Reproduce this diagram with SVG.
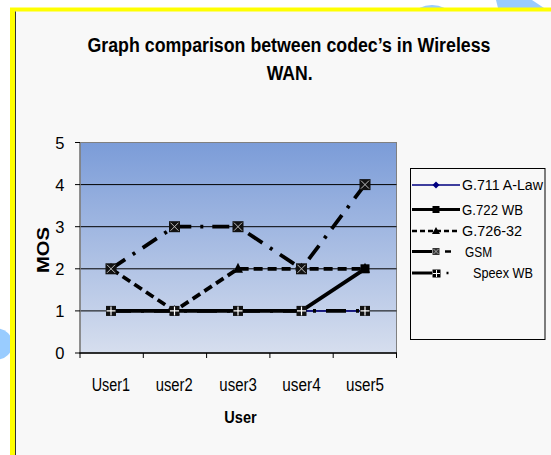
<svg xmlns="http://www.w3.org/2000/svg" width="551" height="455" viewBox="0 0 551 455">
  <defs>
    <linearGradient id="plotGrad" x1="0" y1="0" x2="0" y2="1">
      <stop offset="0" stop-color="#7b9cd8"/>
      <stop offset="1" stop-color="#d6deee"/>
    </linearGradient>
    <g id="mkGsm">
      <rect x="-5.5" y="-5.5" width="11" height="11" fill="#111"/>
      <path d="M-4,-4 L4,4 M4,-4 L-4,4" stroke="#bbb" stroke-width="1"/>
    </g>
    <g id="mkSpeex">
      <rect x="-5" y="-5" width="10" height="10" fill="#111"/>
      <path d="M0,-4.5 V4.5 M-4.5,0 H4.5" stroke="#fff" stroke-width="1.2"/>
    </g>
    <polygon id="mkTri" points="0,-6 5,4 -5,4" fill="#000"/>
    <rect id="mkSq" x="-4.5" y="-4.5" width="9" height="9" fill="#000"/>
    <polygon id="mkDia" points="0,-4.5 4.5,0 0,4.5 -4.5,0" fill="#000080"/>
  </defs>
  <style>
    text { font-family: "Liberation Sans", Arial, sans-serif; fill: #000; }
    .title { font-size: 20px; font-weight: bold; }
    .tick { font-size: 16.5px; }
    .cat { font-size: 17.5px; }
    .axt { font-size: 17px; font-weight: bold; }
    .leg { font-size: 14px; }
    .grid { stroke: #000; stroke-width: 1; }
    .s711 { fill: none; stroke: #000080; stroke-width: 1.5; }
    .s722 { fill: none; stroke: #000; stroke-width: 3.8; }
    .s726 { fill: none; stroke: #000; stroke-width: 3.8; stroke-dasharray: 9 5; }
    .sgsm { fill: none; stroke: #000; stroke-width: 3.8; stroke-dasharray: 17 9 3 9; }
    .sspx { fill: none; stroke: #000; stroke-width: 3.8; stroke-dasharray: 20 10 3 10; }
  </style>

  <!-- outside background -->
  <rect x="0" y="0" width="551" height="455" fill="#ffffff"/>
  <ellipse cx="432" cy="14" rx="17" ry="9" fill="#99ccff"/>
  <polygon points="496,0 532,0 544,8 498,8" fill="#99ccff"/>
  <circle cx="-3" cy="344" r="15.5" fill="#99ccff"/>

  <!-- chart frame -->
  <rect x="10" y="7.5" width="541" height="447.5" fill="#ffff00"/>
  <rect x="15" y="11.5" width="536" height="443.5" fill="#f8f8f8"/>
  <line x1="15.5" y1="11.5" x2="15.5" y2="455" stroke="#333" stroke-width="1"/>

  <!-- title -->
  <g id="title">
    <text class="title" x="87.5" y="51.5" textLength="403" lengthAdjust="spacingAndGlyphs">Graph comparison between codec’s in Wireless</text>
    <text class="title" x="266.7" y="80" textLength="46" lengthAdjust="spacingAndGlyphs">WAN.</text>
  </g>

  <!-- plot area -->
  <g id="plot">
    <rect x="80" y="142.5" width="316.5" height="210.5" fill="url(#plotGrad)" stroke="#808080" stroke-width="1"/>
    <line class="grid" x1="80" y1="184.6" x2="396.5" y2="184.6"/>
    <line class="grid" x1="80" y1="226.7" x2="396.5" y2="226.7"/>
    <line class="grid" x1="80" y1="268.8" x2="396.5" y2="268.8"/>
    <line class="grid" x1="80" y1="310.9" x2="396.5" y2="310.9"/>
    <line x1="80" y1="142.5" x2="80" y2="353" stroke="#808080" stroke-width="1.5"/>
    <line x1="79.5" y1="353" x2="397" y2="353" stroke="#000" stroke-width="1.5"/>
    <!-- y ticks -->
    <path d="M75,142.5 H80 M75,184.6 H80 M75,226.7 H80 M75,268.8 H80 M75,310.9 H80 M75,353 H80" stroke="#000" stroke-width="1"/>
    <!-- x ticks -->
    <path d="M80,353 V358 M143.3,353 V358 M206.6,353 V358 M269.9,353 V358 M333.2,353 V358 M396.5,353 V358" stroke="#000" stroke-width="1"/>
  </g>

  <!-- axis labels -->
  <g id="yLabels">
    <text class="tick" x="64.5" y="148.5" text-anchor="end">5</text>
    <text class="tick" x="64.5" y="190.6" text-anchor="end">4</text>
    <text class="tick" x="64.5" y="232.7" text-anchor="end">3</text>
    <text class="tick" x="64.5" y="274.8" text-anchor="end">2</text>
    <text class="tick" x="64.5" y="316.9" text-anchor="end">1</text>
    <text class="tick" x="64.5" y="359" text-anchor="end">0</text>
  </g>
  <g id="xLabels">
    <text class="cat" x="91.7" y="391" textLength="38.3" lengthAdjust="spacingAndGlyphs">User1</text>
    <text class="cat" x="155.7" y="391" textLength="37" lengthAdjust="spacingAndGlyphs">user2</text>
    <text class="cat" x="219.3" y="391" textLength="37.5" lengthAdjust="spacingAndGlyphs">user3</text>
    <text class="cat" x="282.3" y="391" textLength="38.4" lengthAdjust="spacingAndGlyphs">user4</text>
    <text class="cat" x="346" y="391" textLength="38" lengthAdjust="spacingAndGlyphs">user5</text>
  </g>
  <g id="axisTitles">
    <text class="axt" x="224.3" y="423" textLength="32.4" lengthAdjust="spacingAndGlyphs">User</text>
    <text class="axt" transform="translate(49,250) rotate(-90)" x="-23" y="0" textLength="46" lengthAdjust="spacingAndGlyphs">MOS</text>
  </g>

  <!-- series -->
  <g id="connectors">
    <polyline id="line-g711" class="s711" points="111,310.9 174.5,310.9 238,310.9 301.5,310.9 365,310.9"/>
    <polyline id="line-g722" class="s722" points="111,310.9 174.5,310.9 238,310.9 301.5,310.9 365,268.8"/>
    <polyline id="line-g726" class="s726" points="111,268.8 174.5,310.9 238,268.8 301.5,268.8 365,268.8"/>
    <polyline id="line-gsm" class="sgsm" points="111,268.8 174.5,226.7 238,226.7 301.5,268.8 365,184.6"/>
    <polyline id="line-speex" class="sspx" points="111,310.9 174.5,310.9 238,310.9 301.5,310.9 365,310.9"/>
  </g>

  <g id="g711-points">
    <use href="#mkDia" x="111" y="310.9"/><use href="#mkDia" x="174.5" y="310.9"/><use href="#mkDia" x="238" y="310.9"/><use href="#mkDia" x="301.5" y="310.9"/><use href="#mkDia" x="365" y="310.9"/>
  </g>
  <g id="g722-points">
    <use href="#mkSq" x="111" y="310.9"/><use href="#mkSq" x="174.5" y="310.9"/><use href="#mkSq" x="238" y="310.9"/><use href="#mkSq" x="301.5" y="310.9"/><use href="#mkSq" x="365" y="268.8"/>
  </g>
  <g id="g726-points">
    <use href="#mkTri" x="111" y="268.8"/><use href="#mkTri" x="174.5" y="310.9"/><use href="#mkTri" x="238" y="268.8"/><use href="#mkTri" x="301.5" y="268.8"/><use href="#mkTri" x="365" y="268.8"/>
  </g>
  <g id="gsm-points">
    <use href="#mkGsm" x="111" y="268.8"/><use href="#mkGsm" x="174.5" y="226.7"/><use href="#mkGsm" x="238" y="226.7"/><use href="#mkGsm" x="301.5" y="268.8"/><use href="#mkGsm" x="365" y="184.6"/>
  </g>
  <g id="speex-points">
    <use href="#mkSpeex" x="111" y="310.9"/><use href="#mkSpeex" x="174.5" y="310.9"/><use href="#mkSpeex" x="238" y="310.9"/><use href="#mkSpeex" x="301.5" y="310.9"/><use href="#mkSpeex" x="365" y="310.9"/>
  </g>

  <!-- legend -->
  <g id="legend">
    <rect x="410.5" y="168.5" width="134.5" height="171" fill="#f8f8f8" stroke="#000" stroke-width="1"/>
    <g id="leg-g711">
      <line x1="412" y1="185" x2="460" y2="185" stroke="#000080" stroke-width="1.5"/>
      <polygon points="436,181.5 439.5,185 436,188.5 432.5,185" fill="#000080"/>
      <text class="leg" x="462" y="190" textLength="81" lengthAdjust="spacingAndGlyphs">G.711 A-Law</text>
    </g>
    <g id="leg-g722">
      <line x1="412" y1="209.5" x2="460" y2="209.5" stroke="#000" stroke-width="3"/>
      <rect x="432.5" y="206" width="7" height="7" fill="#000"/>
      <text class="leg" x="462" y="214.5" textLength="61" lengthAdjust="spacingAndGlyphs">G.722 WB</text>
    </g>
    <g id="leg-g726">
      <line x1="412" y1="231" x2="460" y2="231" stroke="#000" stroke-width="2.5" stroke-dasharray="5 3"/>
      <polygon points="436,227 440,234 432,234" fill="#000"/>
      <text class="leg" x="462" y="236" textLength="60" lengthAdjust="spacingAndGlyphs">G.726-32</text>
    </g>
    <g id="leg-gsm">
      <line x1="412" y1="251.5" x2="432" y2="251.5" stroke="#000" stroke-width="3"/>
      <line x1="445" y1="251.5" x2="451" y2="251.5" stroke="#000" stroke-width="2.5"/>
      <rect x="432.5" y="248" width="7" height="7" fill="#333"/>
      <path d="M433.5,249 L438.5,254 M438.5,249 L433.5,254" stroke="#bbb" stroke-width="0.8"/>
      <text class="leg" x="465" y="256.5" textLength="27" lengthAdjust="spacingAndGlyphs">GSM</text>
    </g>
    <g id="leg-speex">
      <line x1="412" y1="273" x2="432" y2="273" stroke="#000" stroke-width="3"/>
      <line x1="446.5" y1="273" x2="448.5" y2="273" stroke="#000" stroke-width="2.5"/>
      <rect x="432.5" y="269.5" width="8" height="8" fill="#000"/>
      <path d="M436.5,270 V277 M433,273.5 H440" stroke="#fff" stroke-width="1"/>
      <text class="leg" x="473" y="278" textLength="60" lengthAdjust="spacingAndGlyphs">Speex WB</text>
    </g>
  </g>
</svg>
